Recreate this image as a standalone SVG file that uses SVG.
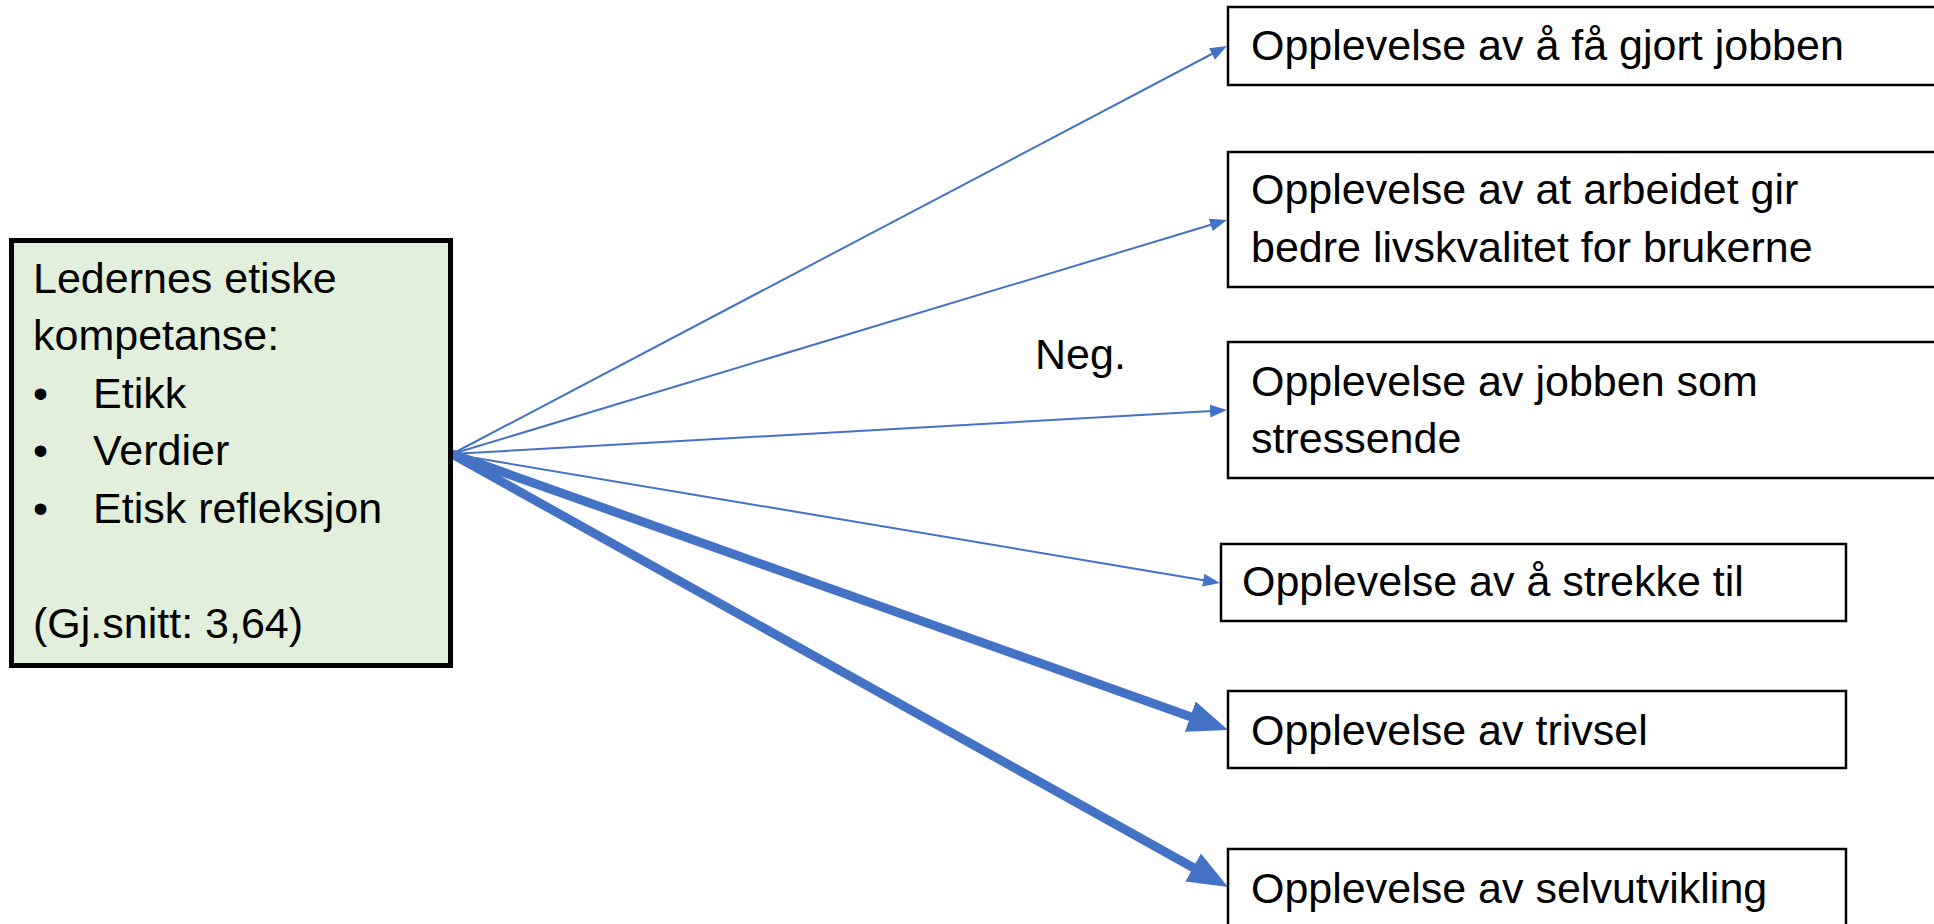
<svg xmlns="http://www.w3.org/2000/svg" width="1934" height="924" viewBox="0 0 1934 924">
<style>
  .t { font-family: "Liberation Sans", Arial, sans-serif; font-size: 43px; fill: #000; }
  .box { fill: #fff; stroke: #000; stroke-width: 2.5; }
  .src { fill: #E2EFDA; stroke: #000; stroke-width: 5; }
  .thin { stroke: #4472C4; stroke-width: 2; fill: none; marker-end: url(#ahThin); }
  .thick { stroke: #4472C4; stroke-width: 9; fill: none; marker-end: url(#ahThick); }
</style>
<defs>
  <marker id="ahThin" markerUnits="userSpaceOnUse" markerWidth="17" markerHeight="13" refX="2" refY="6.5" orient="auto">
    <path d="M0,0 L17,6.5 L0,13 z" fill="#4472C4"/>
  </marker>
  <marker id="ahThick" markerUnits="userSpaceOnUse" markerWidth="40" markerHeight="32" refX="4" refY="16" orient="auto">
    <path d="M0,0 L40,16 L0,32 z" fill="#4472C4"/>
  </marker>
</defs>
<rect width="1934" height="924" fill="#fff"/>

<g id="connectors">
  <line class="thin" x1="452" y1="454" x2="1213.7" y2="53.0"/>
  <line class="thin" x1="452" y1="454" x2="1212.6" y2="224.3"/>
  <line class="thin" x1="452" y1="454" x2="1212.0" y2="410.9"/>
  <line class="thin" x1="452" y1="454" x2="1205.2" y2="580.5"/>
  <line class="thick" x1="452" y1="454" x2="1194.1" y2="717.9"/>
  <line class="thick" x1="452" y1="454" x2="1196.6" y2="869.5"/>
  <text class="t" x="1035" y="369">Neg.</text>
</g>

<g id="source">
  <rect class="src" x="11.5" y="240.5" width="439" height="425"/>
  <text class="t" x="33" y="293">Ledernes etiske</text>
  <text class="t" x="33" y="350">kompetanse:</text>
  <text class="t" x="33" y="408">•</text>
  <text class="t" x="93" y="408">Etikk</text>
  <text class="t" x="33" y="465">•</text>
  <text class="t" x="93" y="465">Verdier</text>
  <text class="t" x="33" y="523">•</text>
  <text class="t" x="93" y="523">Etisk refleksjon</text>
  <text class="t" x="33" y="638">(Gj.snitt: 3,64)</text>
</g>

<g id="n1">
  <rect class="box" x="1228" y="7" width="720" height="78"/>
  <text class="t" x="1251" y="60">Opplevelse av å få gjort jobben</text>
</g>
<g id="n2">
  <rect class="box" x="1228" y="152" width="720" height="135"/>
  <text class="t" x="1251" y="204">Opplevelse av at arbeidet gir</text>
  <text class="t" x="1251" y="262">bedre livskvalitet for brukerne</text>
</g>
<g id="n3">
  <rect class="box" x="1228" y="342" width="720" height="136"/>
  <text class="t" x="1251" y="396">Opplevelse av jobben som</text>
  <text class="t" x="1251" y="453">stressende</text>
</g>
<g id="n4">
  <rect class="box" x="1221" y="544" width="625" height="77"/>
  <text class="t" x="1242" y="596">Opplevelse av å strekke til</text>
</g>
<g id="n5">
  <rect class="box" x="1228" y="691" width="618" height="77"/>
  <text class="t" x="1251" y="745">Opplevelse av trivsel</text>
</g>
<g id="n6">
  <rect class="box" x="1228" y="849" width="618" height="90"/>
  <text class="t" x="1251" y="903">Opplevelse av selvutvikling</text>
</g>
</svg>
